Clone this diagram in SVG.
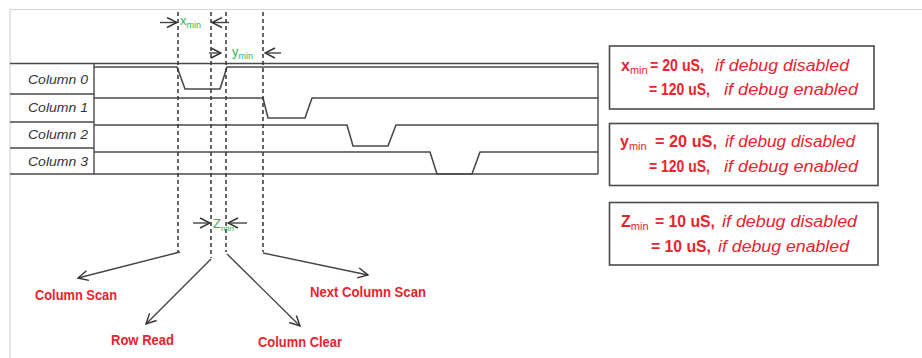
<svg xmlns="http://www.w3.org/2000/svg" width="922" height="358" viewBox="0 0 922 358">
<defs>
<marker id="open" viewBox="0 0 12 12" refX="11" refY="6" markerWidth="12" markerHeight="12" markerUnits="userSpaceOnUse" orient="auto">
<path d="M1,1 L11,6 L1,11" fill="none" stroke="#333" stroke-width="1.4"/>
</marker>
</defs>
<style>
.frame{stroke:#d4d4d4;stroke-width:1.2;fill:none}
.tbl{stroke:#4a4a4a;stroke-width:1.4;fill:none}
.sig{stroke:#4a4a4a;stroke-width:1.6;fill:none}
.dash{stroke:#333;stroke-width:1.5;stroke-dasharray:4 3;fill:none}
.arr{stroke:#444;stroke-width:1.4;fill:none;marker-end:url(#open)}
.lbl{font-family:"Liberation Sans",Arial,sans-serif;font-style:italic;font-size:13px;fill:#333}
.red{font-family:"Liberation Sans",Arial,sans-serif;font-weight:bold;font-size:14.5px;fill:#e8242e}
.grn{font-family:"Liberation Sans",Arial,sans-serif;font-size:13px;fill:#2fb455}
.box{fill:#fff;stroke:#4a4a4a;stroke-width:1.6}
.bt{font-family:"Liberation Sans",Arial,sans-serif;font-size:16px;fill:#e8242e}
.b{font-weight:bold}
.i{font-style:italic}
</style>
<path class="frame" d="M10,358 V9.5 H922"/>
<g id="table">
<path class="tbl" d="M10,63.5 H598 V174 M10,174 H598 M94,63.5 V174 M10,94 H94 M10,122 H94 M10,148 H94"/>
</g>
<g id="column0">
<text class="lbl" x="88" y="84" text-anchor="end" textLength="60" lengthAdjust="spacingAndGlyphs">Column 0</text>
<path class="sig" d="M94,67 H177 L185,89 H220 L227,67 H598"/>
</g>
<g id="column1">
<text class="lbl" x="88" y="112" text-anchor="end" textLength="60" lengthAdjust="spacingAndGlyphs">Column 1</text>
<path class="sig" d="M94,98 H263 L268,118 H305 L312,98 H598"/>
</g>
<g id="column2">
<text class="lbl" x="88" y="139" text-anchor="end" textLength="60" lengthAdjust="spacingAndGlyphs">Column 2</text>
<path class="sig" d="M94,125 H347 L353,146 H388 L396,125 H598"/>
</g>
<g id="column3">
<text class="lbl" x="88" y="166" text-anchor="end" textLength="60" lengthAdjust="spacingAndGlyphs">Column 3</text>
<path class="sig" d="M94,152 H430 L437,174 H472 L480,152 H598"/>
</g>
<g id="connectors">
<path class="dash" d="M178,12 V252"/>
<path class="dash" d="M211,12 V258"/>
<path class="dash" d="M226,12 V252"/>
<path class="dash" d="M263,12 V252"/>
<path class="arr" d="M160,22.5 H177"/>
<path class="arr" d="M229,22.5 H212"/>
<path class="arr" d="M209,53 H221"/>
<path class="arr" d="M281,53 H265"/>
<path class="arr" d="M193,223 H210"/>
<path class="arr" d="M247,223 H228"/>
<path class="arr" d="M180,252 L78,278"/>
<path class="arr" d="M211,259 L146,324"/>
<path class="arr" d="M227,254 L300,326"/>
<path class="arr" d="M263,253 L368,275"/>
</g>
<g id="dim-labels">
<text class="grn" x="180" y="25">x<tspan font-size="9" dy="3">min</tspan></text>
<text class="grn" x="232" y="56">y<tspan font-size="9" dy="3">min</tspan></text>
<text class="grn" x="213" y="228" font-size="14">Z<tspan font-size="8" dy="3">min</tspan></text>
</g>
<g id="column-scan"><text class="red" x="35" y="300" textLength="82" lengthAdjust="spacingAndGlyphs">Column Scan</text></g>
<g id="row-read"><text class="red" x="111" y="345" textLength="63" lengthAdjust="spacingAndGlyphs">Row Read</text></g>
<g id="column-clear"><text class="red" x="258" y="347" textLength="84" lengthAdjust="spacingAndGlyphs">Column Clear</text></g>
<g id="next-column-scan"><text class="red" x="310" y="297" textLength="116" lengthAdjust="spacingAndGlyphs">Next Column Scan</text></g>
<g id="xmin-box">
<rect class="box" x="609.5" y="46" width="264.5" height="63"/>
<text class="bt b" x="621" y="71">x<tspan font-size="11" font-weight="normal" dy="3">min</tspan></text>
<text class="bt b" x="650" y="71" textLength="54" lengthAdjust="spacingAndGlyphs">= 20 uS,</text>
<text class="bt i" x="715" y="71" textLength="134" lengthAdjust="spacingAndGlyphs">if debug disabled</text>
<text class="bt b" x="649" y="95" textLength="61" lengthAdjust="spacingAndGlyphs">= 120 uS,</text>
<text class="bt i" x="724" y="95" textLength="134" lengthAdjust="spacingAndGlyphs">if debug enabled</text>
</g>
<g id="ymin-box">
<rect class="box" x="609.5" y="123.5" width="268.5" height="62"/>
<text class="bt b" x="620" y="147">y<tspan font-size="11" font-weight="normal" dy="3">min</tspan></text>
<text class="bt b" x="655" y="147" textLength="62" lengthAdjust="spacingAndGlyphs">= 20  uS,</text>
<text class="bt i" x="725" y="147" textLength="130" lengthAdjust="spacingAndGlyphs">if debug disabled</text>
<text class="bt b" x="649" y="172" textLength="61" lengthAdjust="spacingAndGlyphs">= 120 uS,</text>
<text class="bt i" x="724" y="172" textLength="134" lengthAdjust="spacingAndGlyphs">if debug enabled</text>
</g>
<g id="zmin-box">
<rect class="box" x="609.5" y="202.5" width="268.5" height="62.5"/>
<text class="bt b" x="621" y="227">Z<tspan font-size="11" font-weight="normal" dy="3">min</tspan></text>
<text class="bt b" x="655" y="227" textLength="60" lengthAdjust="spacingAndGlyphs">= 10 uS,</text>
<text class="bt i" x="722" y="227" textLength="135" lengthAdjust="spacingAndGlyphs">if debug disabled</text>
<text class="bt b" x="651" y="252" textLength="60" lengthAdjust="spacingAndGlyphs">= 10 uS,</text>
<text class="bt i" x="718" y="252" textLength="131" lengthAdjust="spacingAndGlyphs">if debug enabled</text>
</g>
</svg>
